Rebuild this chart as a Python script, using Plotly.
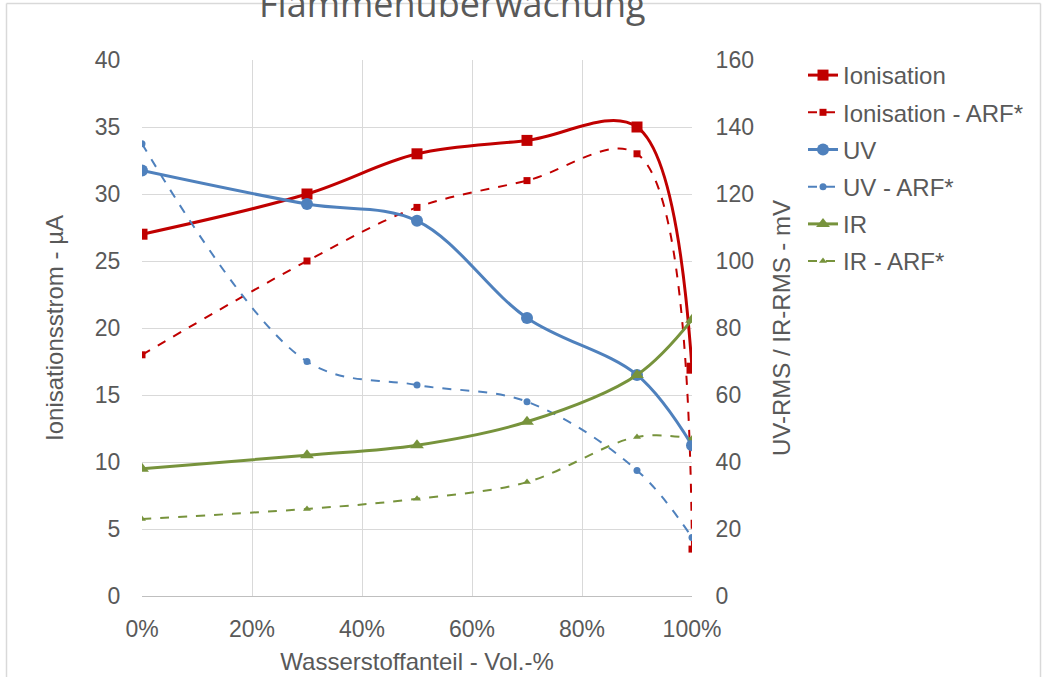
import plotly.graph_objects as go

x_share = [0.0, 0.3, 0.5, 0.7, 0.9, 1.0]

ionisation = [27, 30, 33, 34, 35, 17]
ionisation_arf = [18, 25, 29, 31, 33, 3.5]
uv = [127, 117, 112, 83, 66, 45]
uv_arf = [135, 70, 63, 58, 37.5, 17.5]
ir = [38, 42, 45, 52, 66, 82.5]
ir_arf = [23, 26, 29, 34, 47.5, 47]

x_ticks = [0, 0.2, 0.4, 0.6, 0.8, 1.0]

RED = "#C00000"
BLUE = "#4F81BD"
GREEN = "#77933C"
TXT = "#595959"
GRID = "#D9D9D9"

W, H = 1042, 677
ML, MR, MT, MB = 142, 350, 60, 81
PW, PH = W - ML - MR, H - MT - MB


def px(xp):
    return (xp - ML) / PW


def py(yp):
    return (H - MB - yp) / PH


fig = go.Figure()

def add(name, y, color, symbol, msize, dash, width, axis, group):
    fig.add_trace(go.Scatter(
        x=x_share, y=y, name=name, mode="lines+markers",
        line=dict(color=color, width=width, dash=dash, shape="spline", smoothing=1.0),
        marker=dict(symbol=symbol, size=msize, color=color),
        yaxis=axis, legendgroup=group,
    ))

add("Ionisation", ionisation, RED, "square", 11, "solid", 3, "y", "a")
add("Ionisation - ARF*", ionisation_arf, RED, "square", 7, "dash", 2, "y", "b")
add("UV", uv, BLUE, "circle", 12, "solid", 3, "y2", "c")
add("UV - ARF*", uv_arf, BLUE, "circle", 7, "dash", 2, "y2", "d")
add("IR", ir, GREEN, "triangle-up", 12, "solid", 3, "y2", "e")
add("IR - ARF*", ir_arf, GREEN, "triangle-up", 7, "dash", 2, "y2", "f")

font_family = "Liberation Sans, Arial, sans-serif"

fig.update_layout(
    width=W, height=H,
    margin=dict(l=ML, r=MR, t=MT, b=MB, autoexpand=False),
    paper_bgcolor="white", plot_bgcolor="white",
    font=dict(family=font_family, size=23, color=TXT),
    xaxis=dict(
        range=[0, 1], tickvals=x_ticks, tickformat=".0%", automargin=False,
        showgrid=True, gridcolor=GRID, gridwidth=1.3,
        showline=True, linecolor="#BFBFBF", linewidth=1.3,
        zeroline=False, ticks="outside", ticklen=12, tickcolor="rgba(0,0,0,0)",
        title=dict(text="Wasserstoffanteil - Vol.-%", font=dict(size=24, color=TXT), standoff=12),
        tickfont=dict(size=23, color=TXT),
    ),
    yaxis=dict(
        range=[0, 40], dtick=5, showgrid=True, gridcolor=GRID, gridwidth=1.3, automargin=False,
        zeroline=False, showline=False, ticks="outside", ticklen=16, tickcolor="rgba(0,0,0,0)",
        title=dict(text="Ionisationsstrom - µA", font=dict(size=24, color=TXT), standoff=24),
        tickfont=dict(size=23, color=TXT),
    ),
    yaxis2=dict(
        range=[0, 160], dtick=20, overlaying="y", side="right", showgrid=False, automargin=False,
        zeroline=False, showline=False, ticks="outside", ticklen=18, tickcolor="rgba(0,0,0,0)",
        title=dict(text="UV-RMS / IR-RMS - mV", font=dict(size=24, color=TXT), standoff=20),
        tickfont=dict(size=23, color=TXT),
    ),
    legend=dict(
        x=px(803), y=py(53), xanchor="left", yanchor="top",
        font=dict(size=24, color=TXT), bgcolor="rgba(0,0,0,0)",
        traceorder="grouped", tracegroupgap=3, itemwidth=30,
    ),
    showlegend=True,
)

fig.add_annotation(
    text="Flammenüberwachung", xref="paper", yref="paper",
    x=px(452), y=py(4), xanchor="center", yanchor="middle",
    showarrow=False, font=dict(family="Open Sans, sans-serif", size=36, color=TXT),
)

# chart frame (light border, cut at the bottom)
for x0, y0, x1, y1 in [(6.5, 3.5, 1040.5, 3.5), (6.5, 3.5, 6.5, 700), (1040.5, 3.5, 1040.5, 700)]:
    fig.add_shape(type="line", xref="paper", yref="paper",
                  x0=px(x0), y0=py(y0), x1=px(x1), y1=py(y1),
                  line=dict(color="#D9D9D9", width=1.5))

fig.write_html("out.html")
